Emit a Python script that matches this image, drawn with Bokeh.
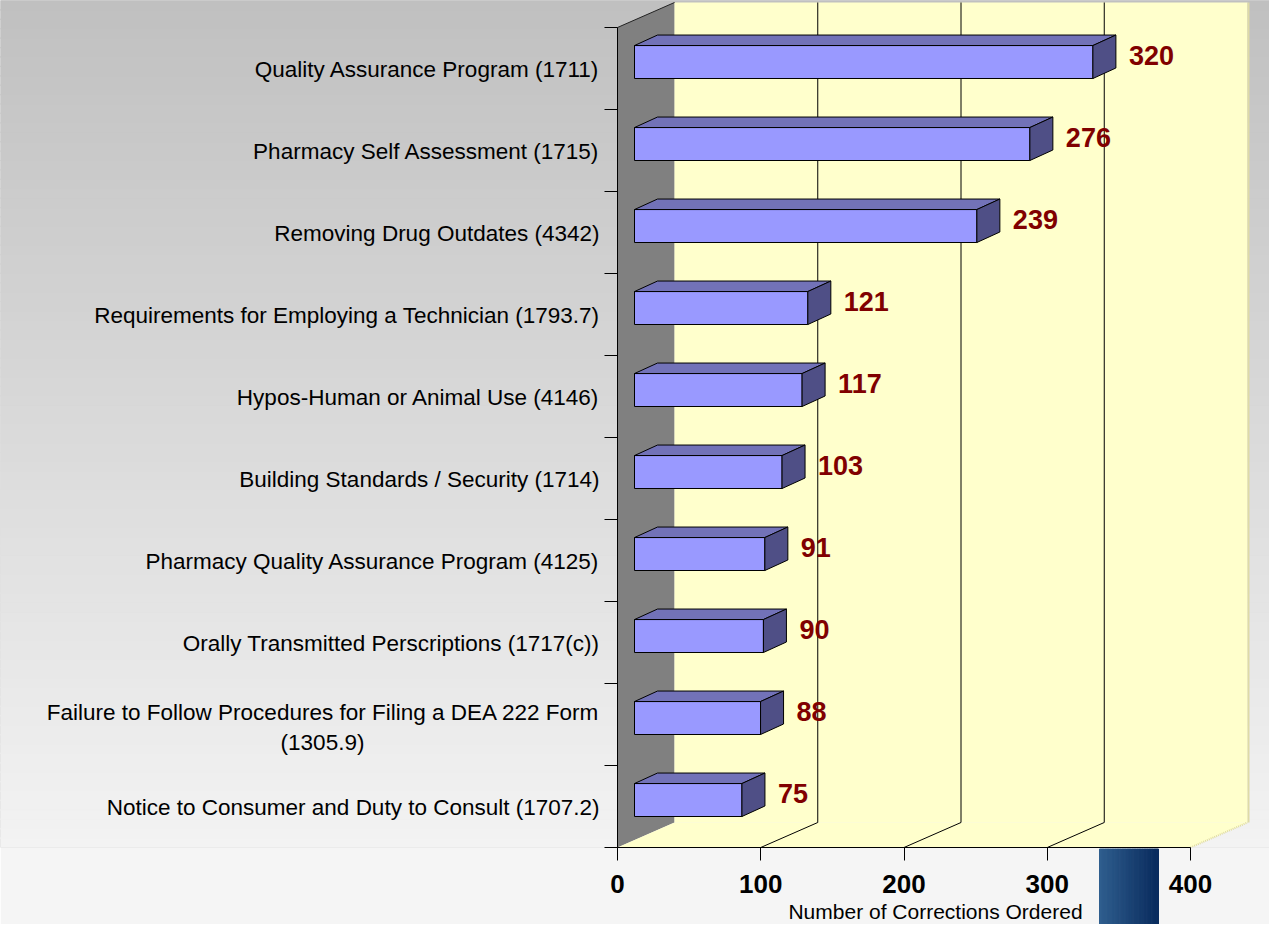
import numpy as np
from bokeh.plotting import figure
from bokeh.models import Range1d, LinearAxis, FixedTicker, ColumnDataSource
from bokeh.core.properties import value
from bokeh.embed import file_html
from bokeh.resources import INLINE

# ---------------- data ----------------
categories = [
    "Quality Assurance Program (1711)",
    "Pharmacy Self Assessment (1715)",
    "Removing Drug Outdates (4342)",
    "Requirements for Employing a Technician (1793.7)",
    "Hypos-Human or Animal Use (4146)",
    "Building Standards / Security (1714)",
    "Pharmacy Quality Assurance Program (4125)",
    "Orally Transmitted Perscriptions (1717(c))",
    "Failure to Follow Procedures for Filing a DEA 222 Form\n(1305.9)",
    "Notice to Consumer and Duty to Consult (1707.2)",
]
corrections = [320, 276, 239, 121, 117, 103, 91, 90, 88, 75]
x_ticks = [0, 100, 200, 300, 400]
x_title = "Number of Corrections Ordered"

# ---------------- geometry (pixels -> data units) ----------------
W, H = 1269, 924
PXV = 1.4325          # pixels per correction unit
PXU = 82.0            # pixels per category slot
ORIGIN_X = 617        # canvas x of value 0
FRAME_H = 847         # canvas y of floor front edge (frame bottom)
X0 = -ORIGIN_X / PXV
X1 = (W - ORIGIN_X) / PXV
U_TOP = FRAME_H / PXU
n = len(categories)
VMAX = x_ticks[-1]

def px2v(px):
    return px / PXV

def px2u(px):
    return px / PXU

DX, DY = px2v(57), px2u(25)          # wall depth
FX = px2v(17)                        # bar front offset
BDX, BDY = px2v(23), px2u(10.5)      # bar depth
BAR_LO, BAR_HI = 0.378, 0.780        # bar front face within slot

FONT = value("Liberation Sans")

p = figure(width=W, height=H, x_range=Range1d(X0, X1), y_range=Range1d(0, U_TOP),
           x_axis_type=None, y_axis_type=None, output_backend="svg",
           toolbar_location=None, min_border=0, min_border_bottom=H - FRAME_H)
p.outline_line_color = None
p.background_fill_color = "#c0c0c0"
p.border_fill_color = "#f5f5f5"

# background vertical gradient
NS = 90
edges = np.linspace(0, U_TOP, NS + 1)
cols = []
for k in range(NS):
    uc = (edges[k] + edges[k + 1]) / 2
    sy = 8 + (FRAME_H - uc * PXU)  # screen y
    t = min(max((sy - 8) / 932.0, 0), 1)
    c = int(round(192 + (248 - 192) * t))
    cols.append("#%02x%02x%02x" % (c, c, c))
p.quad(left=X0 - 5, right=X1 + 5, bottom=edges[:-1], top=edges[1:], fill_color=cols,
       line_color=cols, line_width=1.2)

# gray side wall
p.patch([0, 0, DX, DX], [0, n, n + DY, DY], fill_color="#808080", line_color=None)
# back wall and floor
p.quad(left=DX, right=VMAX + DX, bottom=DY, top=n + DY, fill_color="#ffffcc", line_color=None)
p.patch([0, VMAX, VMAX + DX, DX], [0, 0, DY, DY], fill_color="#ffffcc", line_color=None)
p.segment(x0=[VMAX + DX + px2v(1)], y0=[DY], x1=[VMAX + DX + px2v(1)], y1=[n + DY],
          line_color="#dedaa6", line_width=2)
p.segment(x0=[VMAX], y0=[0], x1=[VMAX + DX], y1=[DY], line_color="#e0dca0",
          line_width=2, line_dash="1 1")

# gridlines
gl = [t for t in x_ticks if 0 < t < VMAX]
p.segment(x0=[g + DX for g in gl], y0=[DY] * len(gl), x1=[g + DX for g in gl],
          y1=[n + DY] * len(gl), line_color="black", line_width=1)
p.segment(x0=gl, y0=[0] * len(gl), x1=[g + DX for g in gl], y1=[DY] * len(gl),
          line_color="black", line_width=1)
# gray wall top edge
p.segment(x0=[0], y0=[n], x1=[DX], y1=[n + DY], line_color="#222222", line_width=1)

# bars
js = [n - 1 - i for i in range(n)]
fl = [FX] * n
fr = [FX + v for v in corrections]
fb = [j + BAR_LO for j in js]
ft = [j + BAR_HI for j in js]
p.quad(left=fl, right=fr, bottom=fb, top=ft, fill_color="#9999ff", line_color="black", line_width=1)
top_xs = [[l, r, r + BDX, l + BDX] for l, r in zip(fl, fr)]
top_ys = [[t, t, t + BDY, t + BDY] for t in ft]
p.patches(top_xs, top_ys, fill_color="#7272b8", line_color="black", line_width=1)
side_xs = [[r, r, r + BDX, r + BDX] for r in fr]
side_ys = [[b, t, t + BDY, b + BDY] for b, t in zip(fb, ft)]
p.patches(side_xs, side_ys, fill_color="#4f4f86", line_color="black", line_width=1)

# value labels
vsrc = ColumnDataSource(dict(x=[r + BDX + px2v(13) for r in fr],
                             y=[t - px2u(10) for t in ft],
                             t=[str(v) for v in corrections]))
p.text(x="x", y="y", text="t", source=vsrc, text_font=FONT, text_font_style="bold",
       text_font_size="27px", text_color="#800000", text_align="left", text_baseline="middle")

# left axis line and slot ticks
p.segment(x0=[0], y0=[0], x1=[0], y1=[n], line_color="black", line_width=1, level="overlay")
p.segment(x0=[px2v(-13)] * (n + 1), y0=list(range(n + 1)), x1=[0] * (n + 1), y1=list(range(n + 1)),
          line_color="black", line_width=1, level="overlay")

# category labels
lab_x, lab_y, lab_t = [], [], []
sub_x, sub_y, sub_t = [], [], []
for cat, j in zip(categories, js):
    parts = cat.split("\n")
    if len(parts) == 1:
        lab_x.append(px2v(-18)); lab_y.append(j + 0.5 - px2u(1)); lab_t.append(cat)
    else:
        lab_x.append(px2v(-18)); lab_y.append(j + 0.5 + px2u(12)); lab_t.append(parts[0])
        sub_x.append(px2v(-295)); sub_y.append(j + 0.5 - px2u(18)); sub_t.append(parts[1])
p.text(x=lab_x, y=lab_y, text=lab_t, text_font=FONT, text_font_size="22.5px", text_color="black",
       text_align="right", text_baseline="middle")
p.text(x=sub_x, y=sub_y, text=sub_t, text_font=FONT, text_font_size="22.5px", text_color="black",
       text_align="center", text_baseline="middle")

# decorative blue block at bottom
NB = 24
bx = np.linspace(px2v(482), px2v(541), NB + 1)
bcols = []
for k in range(NB):
    t = k / (NB - 1)
    r = int(47 + (10 - 47) * t); g = int(94 + (44 - 94) * t); b = int(142 + (94 - 142) * t)
    bcols.append("#%02x%02x%02x" % (r, g, b))
p.quad(left=bx[:-1], right=bx[1:], bottom=px2u(-95), top=px2u(-1.5),
       fill_color=bcols, line_color=bcols, line_width=1, level="overlay")

# axis title (drawn below the frame)
p.text(x=[px2v(318)], y=[px2u(-64)], text=[x_title], text_font=FONT, text_font_size="21px",
       text_color="black", text_align="center", text_baseline="middle", level="overlay")

# x axis
xaxis = LinearAxis(ticker=FixedTicker(ticks=x_ticks), bounds=(x_ticks[0], x_ticks[-1]),
                   axis_line_color="black", axis_line_width=1,
                   major_tick_in=0, major_tick_out=13, major_tick_line_color="black",
                   minor_tick_line_color=None,
                   major_label_text_font="Liberation Sans", major_label_text_font_size="26px",
                   major_label_text_font_style="bold", major_label_text_color="black",
                   major_label_standoff=14)
p.add_layout(xaxis, "below")

open("out.html", "w").write(file_html(p, INLINE))
